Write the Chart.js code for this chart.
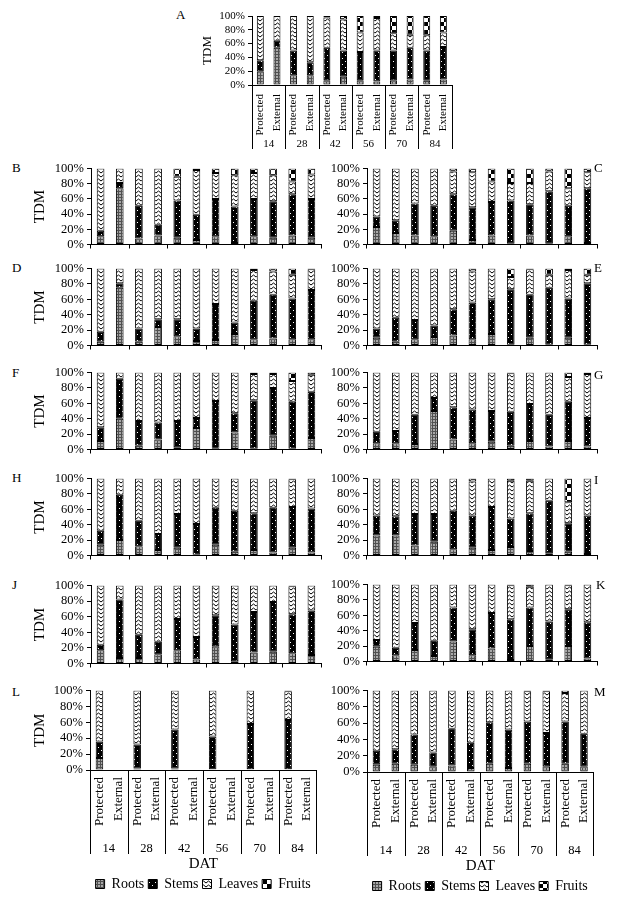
<!DOCTYPE html>
<html><head><meta charset="utf-8">
<script src="https://cdn.jsdelivr.net/npm/chart.js@4.4.0/dist/chart.umd.min.js"></script>
<style>
html,body{margin:0;padding:0;background:#fff;}
#page{position:relative;width:621px;height:900px;overflow:hidden;background:#fff;}
#page canvas{position:absolute;}
.lt{position:absolute;font-family:'Liberation Serif','Times New Roman',serif;font-size:13px;color:#000;line-height:1;}
</style></head>
<body><div id="page"></div>
<script>
// ---------- categories / labels ----------
const treatments = ['Protected', 'External'];
const dat = ['14', '28', '42', '56', '70', '84'];
const seriesNames = ['Roots', 'Stems', 'Leaves', 'Fruits'];
const yTickValues = [0, 20, 40, 60, 80, 100];

// ---------- values (% of total dry mass), order: P14,E14,P28,E28,...,P84,E84 ----------
const rootsA  = [20,54,14,14,7,12,7,5,7,8,6,8];
const stemsA  = [16,10,36,19,47,38,41,45,43,46,44,47];
const leavesA = [64,36,50,67,44,45,28,47,25,19,22,21];
const fruitsA = [0,0,0,0,2,5,24,3,25,27,28,24];

const rootsB  = [11,74,8,12,9,6,11,2,11,9,12,9];
const stemsB  = [7,7,43,14,49,33,49,48,49,48,54,51];
const leavesB = [82,19,49,74,31,59,34,41,34,34,17,32];
const fruitsB = [0,0,0,0,11,2,6,9,6,9,17,8];

const rootsC  = [23,15,12,11,18,6,12,1,12,1,11,2];
const stemsC  = [14,17,42,40,48,43,44,57,41,69,40,72];
const leavesC = [63,68,46,49,30,46,27,23,28,26,23,21];
const fruitsC = [0,0,0,0,4,5,17,19,19,4,26,5];

const rootsD  = [5,75,5,24,12,6,7,15,8,9,8,8];
const stemsD  = [13,6,17,10,22,16,47,15,50,57,53,64];
const leavesD = [82,19,78,66,66,78,46,70,40,30,31,27];
const fruitsD = [0,0,0,0,0,0,0,0,2,4,8,1];

const rootsE  = [10,5,8,11,13,8,15,1,10,1,10,1];
const stemsE  = [12,31,25,15,34,48,45,72,56,74,51,80];
const leavesE = [78,64,67,74,53,40,40,16,33,17,37,11];
const fruitsE = [0,0,0,0,0,4,0,11,1,8,2,8];

const rootsF  = [11,40,5,13,3,28,1,22,1,18,1,15];
const stemsF  = [18,52,32,22,34,13,62,25,63,62,61,60];
const leavesF = [71,8,63,65,63,59,37,53,34,18,27,22];
const fruitsF = [0,0,0,0,0,0,0,0,2,2,11,3];

const rootsG  = [8,8,7,50,13,8,10,5,11,4,11,4];
const stemsG  = [15,16,38,17,42,44,40,44,48,41,51,37];
const leavesG = [77,76,55,33,45,48,50,50,41,55,32,57];
const fruitsG = [0,0,0,0,0,0,0,1,0,0,6,2];

const rootsH  = [14,20,12,7,10,1,14,5,7,4,10,4];
const stemsH  = [18,59,33,21,44,40,48,53,48,58,53,57];
const leavesH = [68,21,55,72,46,59,38,42,45,38,36,39];
const fruitsH = [0,0,0,0,0,0,0,0,0,0,1,0];

const rootsI  = [26,26,13,18,8,10,7,11,6,3,5,2];
const stemsI  = [26,25,41,36,50,42,56,37,49,68,37,50];
const leavesI = [48,49,46,46,42,44,37,49,42,29,27,48];
const fruitsI = [0,0,0,0,0,4,0,3,3,0,31,0];

const rootsJ  = [17,7,7,12,17,5,22,3,14,15,13,11];
const stemsJ  = [7,75,30,16,40,29,40,47,52,64,50,57];
const leavesJ = [76,18,63,72,43,66,38,50,34,21,36,32];
const fruitsJ = [0,0,0,0,0,0,0,0,0,0,1,0];

const rootsK  = [19,8,15,7,26,8,17,2,20,3,20,4];
const stemsK  = [9,10,35,20,44,34,46,53,50,49,48,47];
const leavesK = [72,82,50,73,30,58,37,44,27,48,31,49];
const fruitsK = [0,0,0,0,0,0,0,1,3,0,1,0];

const rootsL  = [15,null,2,null,2,null,1,null,1,null,1,null];
const stemsL  = [21,null,30,null,49,null,41,null,57,null,62,null];
const leavesL = [64,null,68,null,49,null,58,null,42,null,36,null];
const fruitsL = [0,null,0,null,0,null,0,null,0,null,1,null];

const rootsM  = [9,10,9,7,8,5,10,5,10,7,10,7];
const stemsM  = [17,18,37,17,45,31,51,47,52,41,52,40];
const leavesM = [74,72,54,76,47,64,39,48,37,51,35,53];
const fruitsM = [0,0,0,0,0,0,0,0,1,1,3,0];

// ---------- build ----------
const categories = dat.flatMap(() => treatments);
const seriesData = {
  A:[rootsA,stemsA,leavesA,fruitsA], B:[rootsB,stemsB,leavesB,fruitsB],
  C:[rootsC,stemsC,leavesC,fruitsC], D:[rootsD,stemsD,leavesD,fruitsD],
  E:[rootsE,stemsE,leavesE,fruitsE], F:[rootsF,stemsF,leavesF,fruitsF],
  G:[rootsG,stemsG,leavesG,fruitsG], H:[rootsH,stemsH,leavesH,fruitsH],
  I:[rootsI,stemsI,leavesI,fruitsI], J:[rootsJ,stemsJ,leavesJ,fruitsJ],
  K:[rootsK,stemsK,leavesK,fruitsK], L:[rootsL,stemsL,leavesL,fruitsL],
  M:[rootsM,stemsM,leavesM,fruitsM]
};

Chart.defaults.font.family = "'Liberation Serif','Times New Roman',serif";
Chart.defaults.color = '#000';

function makePattern(w, h, draw) {
  const c = document.createElement('canvas'); c.width = w; c.height = h;
  const g = c.getContext('2d'); draw(g); return g.createPattern(c, 'repeat');
}
const patRoots = makePattern(3, 3, g => {
  g.fillStyle = '#a8a8a8'; g.fillRect(0,0,3,3);
  g.fillStyle = '#505050'; g.fillRect(0,0,3,1); g.fillRect(0,0,1,3);
});
const patStems = makePattern(6, 6, g => {
  g.fillStyle = '#000'; g.fillRect(0,0,6,6);
  g.fillStyle = '#fff'; g.fillRect(1,1,1,1); g.fillRect(4,4,1,1);
});
const patLeaves = makePattern(5, 4, g => {
  g.fillStyle = '#fff'; g.fillRect(0,0,5,4);
  g.strokeStyle = '#000'; g.lineWidth = 1;
  g.beginPath(); g.moveTo(0,3); g.lineTo(2.5,1); g.lineTo(5,3); g.stroke();
});
const patFruits = makePattern(8, 8, g => {
  g.fillStyle = '#fff'; g.fillRect(0,0,8,8);
  g.fillStyle = '#000'; g.fillRect(0,0,4,4); g.fillRect(4,4,4,4);
});
const patterns = [patRoots, patStems, patLeaves, patFruits];

const groupLines = {
  id: 'groupLines',
  afterDraw(chart, args, opts) {
    if (!opts || !opts.len) return;
    const x2 = chart.scales.x2; if (!x2) return;
    const ca = chart.chartArea, ctx = chart.ctx, n = x2.getLabels().length;
    ctx.save(); ctx.strokeStyle = '#000'; ctx.lineWidth = 1;
    for (let i = 0; i <= n; i++) {
      const px = Math.round(x2.getPixelForDecimal(i / n)) + 0.5;
      ctx.beginPath(); ctx.moveTo(px, ca.bottom); ctx.lineTo(px, x2.top + opts.len); ctx.stroke();
    }
    ctx.restore();
  }
};

// layout of panels (positions only)
const panels = [
  {id:'A', left:252, right:456, top:16,  bottom:85,  kind:'top',  lx:176, ly:8},
  {id:'B', left:91,  right:321, top:168, bottom:247, kind:'mid',  tdm:true, lx:12,  ly:161},
  {id:'C', left:367, right:597, top:168, bottom:247, kind:'mid',  lx:594, ly:161},
  {id:'D', left:91,  right:321, top:268, bottom:348, kind:'mid',  tdm:true, lx:12,  ly:261},
  {id:'E', left:367, right:597, top:268, bottom:348, kind:'mid',  lx:594, ly:261},
  {id:'F', left:91,  right:321, top:372, bottom:452, kind:'mid',  tdm:true, lx:12,  ly:366},
  {id:'G', left:367, right:597, top:372, bottom:452, kind:'mid',  lx:594, ly:368},
  {id:'H', left:91,  right:321, top:478, bottom:558, kind:'mid',  tdm:true, lx:12,  ly:471},
  {id:'I', left:367, right:597, top:478, bottom:558, kind:'mid',  lx:594, ly:473},
  {id:'J', left:91,  right:321, top:585, bottom:666, kind:'mid',  tdm:true, lx:12,  ly:578},
  {id:'K', left:367, right:597, top:584, bottom:664, kind:'mid',  lx:596, ly:578},
  {id:'L', left:90,  right:320, top:690, bottom:770, kind:'bot',  tdm:true, lx:12,  ly:685},
  {id:'M', left:367, right:597, top:690, bottom:772, kind:'bot',  lx:594, ly:685}
];

const page = document.getElementById('page');

panels.forEach(p => {
  const isTop = p.kind === 'top', isBot = p.kind === 'bot';
  const tdm = isTop || p.tdm;
  const yw = isTop ? 52 : (tdm ? (p.left - 40 + 9) : 40);
  const padTop = 10, padRight = 10;
  const xH = isTop ? 52 : (isBot ? 68 : 6);
  const x2H = isTop ? 14 : (isBot ? 35 : 0);
  const legH = isBot ? 28 : 0;
  const padBottom = isBot ? 0 : 2;
  const W = yw + (p.right - p.left) + padRight;
  const H = padTop + (p.bottom - p.top) + xH + x2H + legH + padBottom;

  const cv = document.createElement('canvas');
  cv.width = W; cv.height = H;
  cv.style.left = (p.left - yw) + 'px'; cv.style.top = (p.top - padTop) + 'px';
  cv.style.width = W + 'px'; cv.style.height = H + 'px';
  page.appendChild(cv);

  const lt = document.createElement('div');
  lt.className = 'lt'; lt.textContent = p.id;
  lt.style.left = p.lx + 'px'; lt.style.top = p.ly + 'px';
  page.appendChild(lt);

  const sd = seriesData[p.id];
  const datasets = seriesNames.map((name, i) => ({
    label: name, data: sd[i], backgroundColor: patterns[i],
    borderColor: '#000', borderWidth: 1, borderSkipped: false,
    barPercentage: isTop ? 0.42 : 0.4, categoryPercentage: 1
  }));

  const tickSize = isTop ? 11 : 12.5;
  const scales = {
    y: {
      stacked: true, min: 0, max: 100,
      afterFit: s => { s.width = yw; },
      afterBuildTicks: s => { s.ticks = yTickValues.map(v => ({value: v})); },
      ticks: { autoSkip: false, callback: v => v + '%', font: {size: tickSize}, color: '#000', padding: 3 },
      grid: { drawOnChartArea: false, tickLength: 4, color: '#000' },
      border: { display: true, color: '#000', width: 1 },
      title: { display: tdm, text: 'TDM', font: {size: isTop ? 13 : 15}, color: '#000', padding: 0 }
    }
  };
  if (p.kind === 'mid') {
    scales.x = {
      stacked: true, weight: 0,
      ticks: { display: false },
      grid: { offset: true, drawOnChartArea: false, tickLength: 4,
              color: c => (c.index === undefined || c.index % 2 === 0) ? '#000' : 'rgba(0,0,0,0)' },
      border: { display: true, color: '#000', width: 1 },
      afterFit: s => { s.height = xH; }
    };
  } else {
    scales.x = {
      stacked: true, weight: 0,
      ticks: { autoSkip: false, minRotation: 90, maxRotation: 90,
               font: {size: isTop ? 11 : 13}, color: '#000', padding: isTop ? 9 : 7 },
      grid: { display: false, drawTicks: false },
      border: { display: true, color: '#000', width: 1 },
      afterFit: s => { s.height = xH; }
    };
    scales.x2 = {
      type: 'category', position: 'bottom', weight: 1, labels: dat, offset: true,
      ticks: { autoSkip: false, maxRotation: 0, font: {size: isTop ? 11 : 12.5}, color: '#000', padding: isTop ? 1 : 3 },
      grid: { display: false, drawTicks: false },
      border: { display: false },
      title: { display: isBot, text: 'DAT', font: {size: 15}, color: '#000', padding: 0 },
      afterFit: s => { s.height = x2H; }
    };
  }

  new Chart(cv, {
    type: 'bar',
    data: { labels: categories, datasets },
    options: {
      responsive: false, animation: false, events: [], devicePixelRatio: 1,
      layout: { padding: { top: padTop, right: padRight, bottom: padBottom, left: 0 } },
      scales,
      plugins: {
        legend: isBot ? {
          display: true, position: 'bottom', fullSize: false,
          labels: { boxWidth: 9, boxHeight: 9, padding: 4, font: {size: 14}, color: '#000' }
        } : { display: false },
        tooltip: { enabled: false },
        groupLines: { len: isTop ? 12 : (isBot ? 16 : 0) }
      }
    },
    plugins: [groupLines]
  });
});
</script>
</body></html>
